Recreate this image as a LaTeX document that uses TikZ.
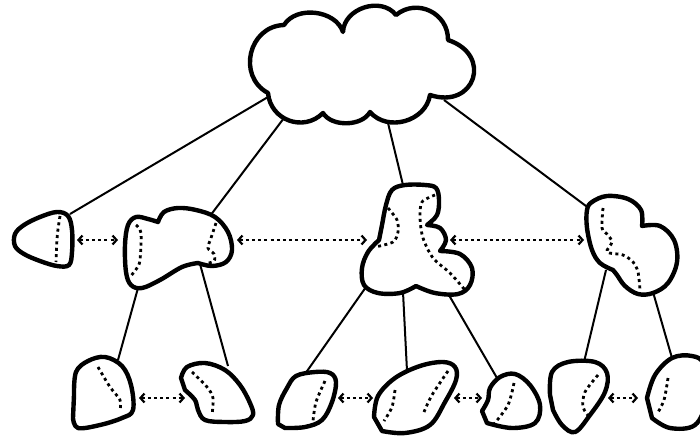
\documentclass[tikz,border=0pt]{standalone}
\usetikzlibrary{arrows.meta}
\begin{document}
\begin{tikzpicture}[x=1pt,y=-1pt,
  blob/.style={line width=4.4pt,line join=round,fill=white},
  edge/.style={line width=2pt},
  dots/.style={line width=2.8pt,dash pattern=on 3pt off 3.4pt},
  dotarrow/.style={line width=2.6pt,dash pattern=on 3pt off 3.2pt,
     {Straight Barb[length=4pt,width=9pt,line width=2.2pt]}-{Straight Barb[length=4pt,width=9pt,line width=2.2pt]}},
  tens/.style={smooth,tension=0.6}]
\useasboundingbox (0,0) rectangle (700,437);
\clip (0,0) rectangle (700,437);
\fill[white] (0,0) rectangle (700,437);
% connection coordinates
\coordinate (cl1) at (268,97);
\coordinate (cl2) at (284,118);
\coordinate (cl3) at (388,123);
\coordinate (cl4) at (444,100);
\coordinate (a1) at (70,214);
\coordinate (b1) at (210,216);
\coordinate (c1) at (403,185);
\coordinate (d1) at (590,209);
\coordinate (b2) at (138,288);
\coordinate (b3) at (200,264);
\coordinate (c2) at (366,287);
\coordinate (c3) at (403,292);
\coordinate (c4) at (446,290);
\coordinate (d2) at (606,270);
\coordinate (d3) at (653,292);
\coordinate (l1) at (118,360);
\coordinate (l2) at (228,366);
\coordinate (l3) at (305,374);
\coordinate (l4) at (407,371);
\coordinate (l5) at (497,378);
\coordinate (l6) at (584,362);
\coordinate (l7) at (672,358);
% connectors
\draw[edge] (cl1) -- (a1);
\draw[edge] (cl2) -- (b1);
\draw[edge] (cl3) -- (c1);
\draw[edge] (cl4) -- (d1);
\draw[edge] (b2) -- (l1);
\draw[edge] (b3) -- (l2);
\draw[edge] (c2) -- (l3);
\draw[edge] (c3) -- (l4);
\draw[edge] (c4) -- (l5);
\draw[edge] (d2) -- (l6);
\draw[edge] (d3) -- (l7);
% cloud
\draw[blob] (268,93) to[bend left=75,looseness=1.3] (284,25)
  to[bend left=65] (343,32)
  to[bend left=70,looseness=1.1] (396,15)
  to[bend left=65,looseness=1.2] (448,40)
  to[bend left=90,looseness=2.1] (430,95)
  to[bend left=65,looseness=1.1] (370,112)
  to[bend left=60,looseness=0.9] (323,113)
  to[bend left=65,looseness=1.2] cycle;
% blob A
\draw[blob] plot[smooth cycle,tension=0.6] coordinates {(15,234) (15,246) (24,254) (40,261) (57,266) (69,265) (72,252) (72,230) (68,216) (57,212) (40,217) (24,225)};
\draw[dots] (60,216) .. controls (57,235) .. (56,262);
% blob B
\draw[blob] plot[tens] coordinates {(198,263) (182,267) (160,280) (142,288) (131,285) (126,272) (125,245) (128,225) (136,217) (148,219) (158,222)}
  -- plot[tens] coordinates {(158,222) (164,212) (178,208) (196,210) (215,217) (228,232) (232,250) (226,262) (212,266) (198,263)} -- cycle;
\draw[dots] plot[smooth] coordinates {(136,225) (141,233) (140,260) (137,268) (130,277)};
\draw[dots] plot[smooth] coordinates {(216,223) (211,238) (208,248) (214,254) (214,261) (205,264)};
% blob C
\draw[blob] plot[tens] coordinates {(379,240) (382,225) (386,205) (392,190) (405,185) (425,185) (436,188) (439,200) (437,215) (427,225)}
  -- plot[tens] coordinates {(427,225) (440,228) (446,240) (440,251)}
  -- plot[tens] coordinates {(440,251) (460,254) (472,268) (470,285) (458,294) (435,293) (416,286)}
  -- plot[tens] coordinates {(416,286) (400,293) (378,293) (364,285) (362,268) (368,252) (379,240)} -- cycle;
\draw[dots] plot[smooth] coordinates {(388,208) (397,220) (398,232) (393,242) (375,247)};
\draw[dots] plot[smooth] coordinates {(435,195) (422,202) (420,218) (423,238) (433,258) (450,273) (465,290)};
% blob D
\draw[blob] plot[tens] coordinates {(613,270) (600,263) (592,250) (587,228) (587,210) (592,202) (607,196) (628,199) (641,210) (642,226)}
  -- plot[tens] coordinates {(642,226) (660,226) (674,240) (677,262) (668,283) (653,293) (638,294) (625,286) (617,275) (613,270)} -- cycle;
\draw[dots] plot[smooth] coordinates {(603,208) (602,228) (607,234) (612,242) (607,252) (623,255) (633,262) (638,272) (640,290)};
% bottom blobs
\draw[blob] plot[tens] coordinates {(74,395) (76,372) (88,361) (105,357) (122,366) (131,385) (133,410) (122,418) (100,425) (78,428) (73,418)} -- cycle;
\draw[dots] plot[smooth] coordinates {(98,367) (110,387) (120,400) (120,411)};
\draw[blob] plot[tens] coordinates {(181,378) (187,367) (205,363) (225,370) (240,385) (250,403) (253,415) (245,421) (225,422) (205,420) (198,410) (195,400) (185,390)} -- cycle;
\draw[dots] plot[smooth] coordinates {(192,372) (207,387) (213,398) (212,415)};
\draw[blob] plot[tens] coordinates {(278,424) (279,405) (287,388) (296,376) (315,372) (330,373) (336,382) (332,402) (322,420) (305,427) (285,428)} -- cycle;
\draw[dots] plot[smooth] coordinates {(325,381) (316,402) (313,421)};
\draw[blob] plot[tens] coordinates {(374,417) (378,396) (395,378) (420,366) (443,362) (455,367) (456,380) (445,402) (430,425) (405,433) (382,431)} -- cycle;
\draw[dots] plot[smooth] coordinates {(395,390) (392,407) (384,421)};
\draw[dots] plot[smooth] coordinates {(448,371) (432,395) (424,412)};
\draw[blob] plot[tens] coordinates {(482,411) (488,400) (490,388) (500,377) (515,374) (530,385) (540,405) (535,423) (512,428) (487,423)} -- cycle;
\draw[dots] plot[smooth] coordinates {(514,383) (508,405) (494,424)};
\draw[blob] plot[tens] coordinates {(550,395) (552,372) (568,362) (595,362) (607,373) (605,392) (590,415) (575,432) (562,425) (553,410)} -- cycle;
\draw[dots] plot[smooth] coordinates {(598,375) (585,392) (583,407) (590,418)};
\draw[blob] plot[tens] coordinates {(647,398) (655,375) (672,358) (692,356) (704,365) (706,400) (695,425) (670,428) (652,418)} -- cycle;
\draw[dots] plot[smooth] coordinates {(668,378) (664,400) (657,414)};
% arrows
\coordinate (pa) at (77,240);
\coordinate (pb1) at (118,240);
\coordinate (pb2) at (237,240);
\coordinate (pc1) at (367,240);
\coordinate (pc2) at (450,240);
\coordinate (pd) at (584,240);
\draw[dotarrow] (pa) -- (pb1);
\draw[dotarrow] (pb2) -- (pc1);
\draw[dotarrow] (pc2) -- (pd);
\coordinate (q1) at (139,398);
\coordinate (q2) at (185,398);
\coordinate (q3) at (338,398);
\coordinate (q4) at (373,398);
\coordinate (q5) at (454,398);
\coordinate (q6) at (482,398);
\coordinate (q7) at (608,398);
\coordinate (q8) at (638,398);
\draw[dotarrow] (q1) -- (q2);
\draw[dotarrow] (q3) -- (q4);
\draw[dotarrow] (q5) -- (q6);
\draw[dotarrow] (q7) -- (q8);
\end{tikzpicture}
\end{document}
